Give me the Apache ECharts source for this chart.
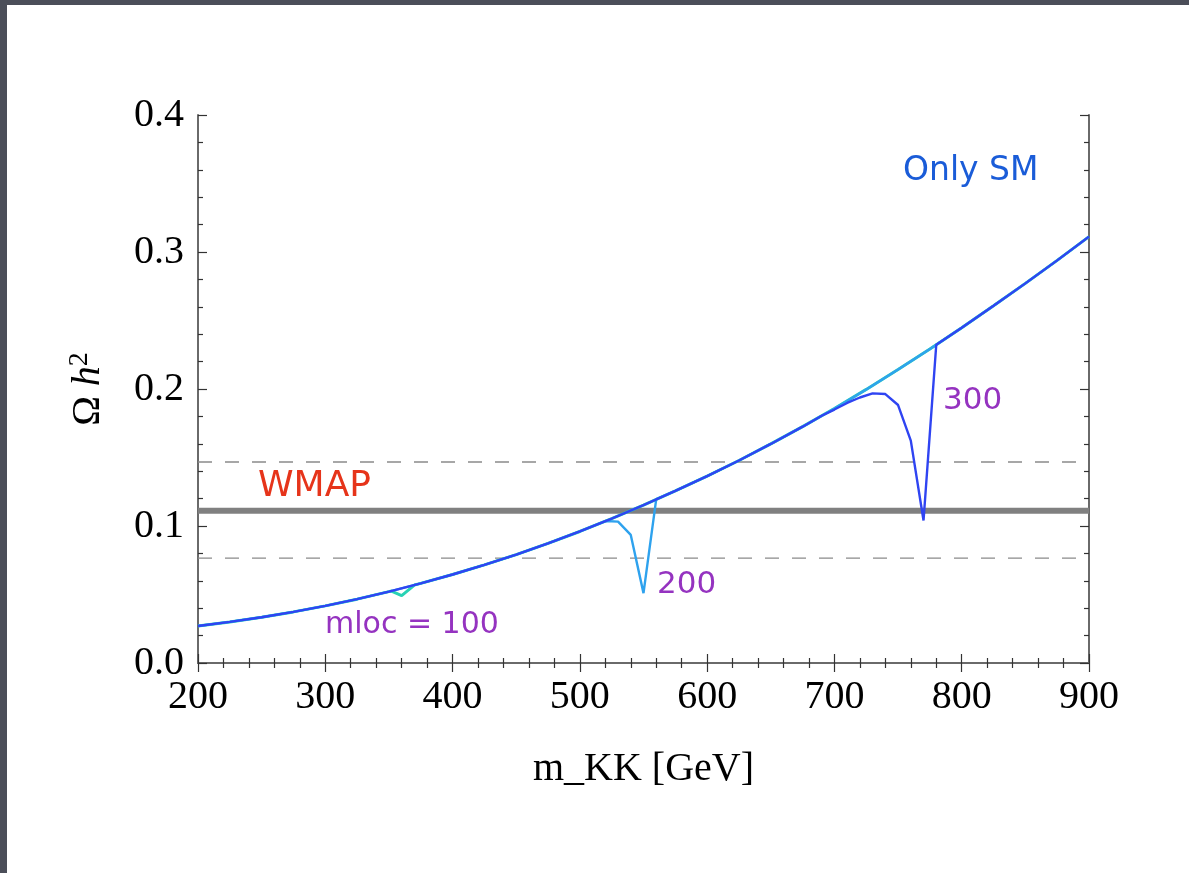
<!DOCTYPE html>
<html>
<head>
<meta charset="utf-8">
<script src="https://cdn.jsdelivr.net/npm/echarts@6/dist/echarts.min.js"></script>
<style>
  html, body { margin: 0; padding: 0; background: #fff; }
  #chart { width: 1189px; height: 873px; }
</style>
</head>
<body>
<div id="chart"></div>
<script>
// relic density curve (m_KK in GeV)
var mKK = [200, 225, 250, 275, 300, 325, 350, 375, 400, 425, 450, 475, 500, 525, 550,
           575, 600, 625, 650, 675, 700, 725, 750, 775, 800, 825, 850, 875, 900];
var omegaSM = [0.0270, 0.0300, 0.0334, 0.0373, 0.0417, 0.0466, 0.0521, 0.0581, 0.0646, 0.0716,
               0.0791, 0.0873, 0.0960, 0.1054, 0.1152, 0.1256, 0.1364, 0.1478, 0.1599, 0.1725,
               0.1858, 0.1997, 0.2142, 0.2292, 0.2447, 0.2607, 0.2771, 0.2939, 0.3112];

// resonance dips for each mloc
var dip100 = [[352, 0.0525], [360, 0.0492], [370, 0.0569]];
var dip200 = [[520, 0.1036], [530, 0.1032], [540, 0.0935], [550, 0.0510], [560, 0.1196]];
var dip300 = [[690, 0.1805], [700, 0.1850], [710, 0.1898], [720, 0.1938], [730, 0.1968],
              [740, 0.1963], [750, 0.1883], [760, 0.1623], [770, 0.1040], [780, 0.2323]];

// horizontal bands
var wmapCentral = 0.1112;
var wmapBand = [0.0765, 0.1467];

var xTicks = { min: 200, max: 900, interval: 100 };
var yTicks = { min: 0, max: 0.4, interval: 0.1 };

function withDip(dip) {
    var lo = dip[0][0], hi = dip[dip.length - 1][0];
    return mKK.map(function (m, i) { return [m, omegaSM[i]]; })
        .filter(function (p) { return p[0] < lo || p[0] > hi; })
        .concat(dip)
        .sort(function (a, b) { return a[0] - b[0]; });
}

function hline(v) { return [[xTicks.min, v], [xTicks.max, v]]; }

var serif = 'Liberation Serif';
var handFont = 'DejaVu Sans';

function frameAxis(pos, isX, showLabel) {
    return {
        type: 'value',
        position: pos,
        min: isX ? xTicks.min : yTicks.min,
        max: isX ? xTicks.max : yTicks.max,
        interval: isX ? xTicks.interval : yTicks.interval,
        axisLine: { show: true, lineStyle: { color: '#6a6a6a', width: 2 } },
        axisTick: { show: true, inside: true, length: 9, lineStyle: { color: '#333', width: 1.2 } },
        minorTick: { show: true, splitNumber: 5, length: 5, lineStyle: { color: '#333', width: 1.2 } },
        splitLine: { show: false },
        axisLabel: {
            show: showLabel,
            color: '#000',
            fontFamily: serif,
            fontSize: 40,
            margin: 14,
            formatter: function (v) { return isX ? String(Math.round(v)) : v.toFixed(1); }
        }
    };
}

var chart = echarts.init(document.getElementById('chart'));

var xBottom = frameAxis('bottom', true, true);
xBottom.name = 'm_KK [GeV]';
xBottom.nameLocation = 'middle';
xBottom.nameGap = 86;
xBottom.nameTextStyle = { color: '#000', fontFamily: serif, fontSize: 40 };

var yLeft = frameAxis('left', false, true);
yLeft.name = '{o|Ω }{h|h}{s|2}';
yLeft.nameLocation = 'middle';
yLeft.nameGap = 88;
yLeft.nameRotate = 90;
yLeft.nameTextStyle = {
    color: '#000',
    fontFamily: serif,
    rich: {
        o: { fontFamily: serif, fontSize: 40, lineHeight: 44, color: '#000' },
        h: { fontFamily: serif, fontSize: 40, lineHeight: 44, fontStyle: 'italic', color: '#000' },
        s: { fontFamily: serif, fontSize: 28, lineHeight: 28, verticalAlign: 'top', color: '#000' }
    }
};

var dashStyle = { color: '#8a8a8a', width: 1.3, type: [14, 13] };

var option = {
    animation: false,
    backgroundColor: '#fff',
    grid: { left: 198, right: 100, top: 115, bottom: 210 },
    xAxis: [xBottom, frameAxis('top', true, false)],
    yAxis: [yLeft, frameAxis('right', false, false)],
    series: [
        { type: 'line', name: 'WMAP low', data: hline(wmapBand[0]), symbol: 'none', silent: true,
          lineStyle: dashStyle },
        { type: 'line', name: 'WMAP high', data: hline(wmapBand[1]), symbol: 'none', silent: true,
          lineStyle: dashStyle },
        { type: 'line', name: 'WMAP', data: hline(wmapCentral), symbol: 'none', silent: true,
          lineStyle: { color: '#808080', width: 6 } },
        { type: 'line', name: 'mloc = 100', data: withDip(dip100), symbol: 'none',
          lineStyle: { color: '#28d2b4', width: 3 } },
        { type: 'line', name: 'mloc = 200', data: withDip(dip200), symbol: 'none',
          lineStyle: { color: '#2ea2ee', width: 2.4 } },
        { type: 'line', name: 'mloc = 300', data: withDip(dip300), symbol: 'none',
          lineStyle: { color: '#2f44f2', width: 2.4 } }
    ],
    graphic: [
        { type: 'rect', shape: { x: 0, y: 0, width: 1189, height: 5 }, style: { fill: '#4b4e59' }, z: 100 },
        { type: 'rect', shape: { x: 0, y: 0, width: 7, height: 873 }, style: { fill: '#4b4e59' }, z: 100 },
        { type: 'text', style: { text: 'WMAP', x: 258, y: 487, font: '36px "' + handFont + '"',
          fill: '#e6341a', textAlign: 'left', textVerticalAlign: 'middle' } },
        { type: 'text', style: { text: 'mloc = 100', x: 325, y: 625, font: '30px "' + handFont + '"',
          fill: '#9533c0', textAlign: 'left', textVerticalAlign: 'middle' } },
        { type: 'text', style: { text: '200', x: 657, y: 585, font: '31px "' + handFont + '"',
          fill: '#9533c0', textAlign: 'left', textVerticalAlign: 'middle' } },
        { type: 'text', style: { text: '300', x: 943, y: 401, font: '31px "' + handFont + '"',
          fill: '#9533c0', textAlign: 'left', textVerticalAlign: 'middle' } },
        { type: 'text', style: { text: 'Only SM', x: 903, y: 171, font: '33px "' + handFont + '"',
          fill: '#1a5cd8', textAlign: 'left', textVerticalAlign: 'middle' } }
    ]
};

chart.setOption(option);
</script>
</body>
</html>
